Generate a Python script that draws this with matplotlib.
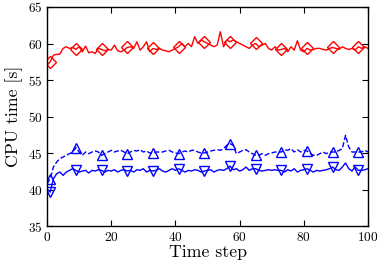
import numpy as np
import matplotlib
matplotlib.use("Agg")
import matplotlib.pyplot as plt

plt.rcParams['font.family'] = 'serif'
plt.rcParams['font.serif'] = ['cmr10']
plt.rcParams['axes.formatter.use_mathtext'] = True
plt.rcParams['mathtext.fontset'] = 'cm'

steps = np.arange(0, 101)

red_px = [195, 185, 165, 163, 162, 145, 140, 145, 142, 148,
          140, 155, 138, 158, 155, 160, 145, 148, 152, 148,
          150, 135, 152, 155, 150, 142, 140, 145, 125, 150,
          140, 125, 155, 145, 148, 145, 150, 152, 155, 150,
          145, 140, 130, 140, 130, 140, 110, 130, 120, 125,
          130, 135, 140, 135, 95, 140, 120, 125, 120, 125,
          130, 135, 140, 145, 135, 130, 140, 135, 130, 145,
          150, 140, 150, 148, 145, 155, 140, 150, 122, 150,
          155, 145, 150, 148, 145, 145, 148, 150, 145, 142,
          145, 148, 140, 145, 148, 145, 150, 140, 145, 140, 145]
dashed_px = [190, 175, 140, 125, 115, 110, 105, 100, 95, 82,
             95, 105, 95, 100, 95, 92, 95, 105, 100, 95,
             90, 95, 92, 90, 95, 100, 95, 90, 92, 88,
             95, 92, 98, 98, 95, 95, 95, 92, 90, 95,
             98, 100, 95, 92, 95, 90, 90, 95, 98, 98,
             95, 92, 90, 88, 90, 85, 75, 70, 75, 100,
             95, 90, 88, 95, 100, 105, 105, 100, 105, 100,
             98, 95, 95, 95, 88, 90, 85, 95, 88, 95,
             90, 92, 100, 105, 105, 100, 95, 100, 95, 95,
             95, 90, 85, 45, 80, 95, 95, 95, 95, 90, 95]
solid_px = [205, 215, 175, 160, 155, 165, 155, 150, 145, 150,
            155, 152, 150, 158, 150, 152, 148, 150, 155, 150,
            152, 148, 155, 150, 148, 152, 150, 155, 148, 150,
            145, 155, 150, 152, 150, 145, 152, 155, 150, 145,
            150, 145, 150, 155, 150, 152, 148, 150, 155, 152,
            150, 148, 155, 150, 148, 150, 145, 137, 148, 145,
            152, 148, 140, 150, 145, 145, 150, 152, 150, 148,
            150, 148, 150, 150, 155, 148, 152, 145, 155, 150,
            148, 145, 150, 155, 150, 152, 150, 148, 145, 140,
            148, 150, 140, 128, 145, 152, 140, 150, 150, 148, 145]

# values
series_red = [round(65.959 - p / 21.9, 2) for p in red_px]
series_dashed = [round(49.52 - p / 21.9, 2) for p in dashed_px]
series_solid = [round(49.52 - p / 21.9, 2) for p in solid_px]

fig = plt.figure(figsize=(3.81, 2.67), dpi=100)
ax = fig.add_axes([0.1234, 0.1517, 0.8425, 0.8221])

ax.plot(steps, series_red, '-', color='red', lw=1.0, marker='D', ms=6,
        mfc='none', mec='red', mew=1.0, markevery=(1, 8))
ax.plot(steps, series_dashed, '--', color='blue', lw=1.0, marker='^', ms=7,
        mfc='none', mec='blue', mew=1.0, markevery=(1, 8))
ax.plot(steps, series_solid, '-', color='blue', lw=1.0, marker='v', ms=7,
        mfc='none', mec='blue', mew=1.0, markevery=(1, 8))

ax.set_xlim(0, 100)
ax.set_ylim(35, 65)
ax.set_xticks([0, 20, 40, 60, 80, 100])
ax.set_yticks([35, 40, 45, 50, 55, 60, 65])
ax.tick_params(direction='in', top=True, right=True, length=4, width=0.8,
               labelsize=9.6, pad=3)
ax.set_xlabel('Time step', fontsize=12.8, labelpad=1)
ax.set_ylabel('CPU time [s]', fontsize=12.8, labelpad=4)
for s in ax.spines.values():
    s.set_linewidth(1.0)

fig.savefig('out.png', dpi=100)
